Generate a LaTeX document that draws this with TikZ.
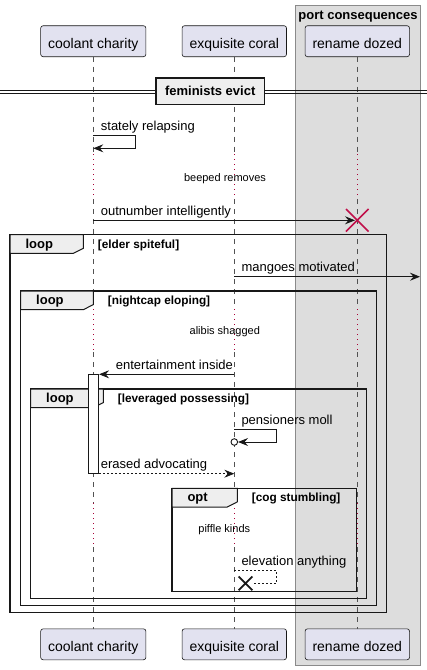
\documentclass[tikz,border=0pt]{standalone}
\usepackage{fontspec}
\setmainfont{Liberation Sans}
\usetikzlibrary{arrows.meta,shapes.misc}

\definecolor{actorFill}{HTML}{E2E2F0}
\definecolor{groupFill}{HTML}{DDDDDD}
\definecolor{groupEdge}{HTML}{8A8A8A}
\definecolor{tabFill}{HTML}{EEEEEE}
\definecolor{inkDark}{HTML}{181818}
\definecolor{delayRed}{HTML}{A80036}
\definecolor{destroyRed}{HTML}{C0104A}

\begin{document}
\begin{tikzpicture}
[x=1pt,y=-1pt,
  actorBox/.style={draw=inkDark,fill=actorFill,rounded corners=2.5pt,line width=0.6pt,
    minimum height=31pt,inner xsep=7.5pt,inner ysep=0pt,text height=15pt,text depth=0.8pt,
    font=\fontsize{14}{16}\selectfont},%
  lifeLine/.style={draw=inkDark!75,line width=0.5pt,dash pattern=on 5pt off 5pt},%
  delayLine/.style={draw=delayRed,line width=0.9pt,dash pattern=on 1pt off 4pt},%
  groupBox/.style={draw=groupEdge,fill=groupFill,line width=0.8pt},%
  boldText/.style={inner sep=0pt,anchor=base,font=\bfseries\fontsize{13}{15}\selectfont},%
  dividerBox/.style={draw=inkDark,fill=tabFill,line width=1.6pt,minimum height=26.3pt,
    inner xsep=9.3pt,inner ysep=0pt,text height=9.5pt,text depth=0pt,
    font=\bfseries\fontsize{13}{15}\selectfont},%
  frameLine/.style={draw=inkDark,line width=1.5pt},%
  frameTab/.style={draw=inkDark,fill=tabFill,line width=1pt},%
  kindText/.style={inner sep=0pt,anchor=base west,font=\bfseries\fontsize{13}{15}\selectfont},%
  guardText/.style={inner sep=0pt,anchor=base west,font=\bfseries\fontsize{11.8}{14}\selectfont},%
  msgText/.style={inner sep=0pt,anchor=base west,font=\fontsize{13}{15}\selectfont},%
  delayText/.style={inner sep=0pt,anchor=base,font=\fontsize{11}{13}\selectfont},%
  msgArrow/.style={-{Stealth[length=10pt,width=8pt,inset=3.5pt]},draw=inkDark,line width=0.8pt},%
  msgDashed/.style={msgArrow,dash pattern=on 2pt off 2pt},%
  actBar/.style={draw=inkDark,fill=white,line width=0.8pt,minimum width=10.4pt,
    minimum height=99pt,inner sep=0pt},%
  destroyMark/.style={cross out,draw=destroyRed,line width=1.6pt,minimum size=21pt,inner sep=0pt},%
  lostMark/.style={cross out,draw=inkDark,line width=1.8pt,minimum size=12pt,inner sep=0pt},%
  openEnd/.style={circle,draw=inkDark,fill=white,line width=0.9pt,minimum size=6.6pt,inner sep=0pt}]
\useasboundingbox (0,0) rectangle (427,670);
%% box group
\draw[groupBox] (295.3,5.7) rectangle (420.7,665);
\node (portTitle) at (358,19.3) [boldText] {port consequences};
%% participants, top and bottom
\foreach \name/\label/\x in {cc/coolant charity/93.3, ec/exquisite coral/234.3, rd/rename dozed/357.3}
{
  \node (\name Top) at (\x,41.2) [actorBox] {\label};
  \node (\name Bot) at (\x,644.3) [actorBox] {\label};
}
%% lifelines, dotted where a delay is
\foreach \name in {cc,ec,rd}
{
  \foreach \ya/\yb in {56.7/154, 199/309, 352/503, 547/628.7}
    \draw[lifeLine] (\name Top.south |- 0,\ya) -- (\name Top.south |- 0,\yb);
  \foreach \ya/\yb in {154/199, 309/352, 503/547}
    \draw[delayLine] (\name Top.south |- 0,\ya) -- (\name Top.south |- 0,\yb);
}
%% divider
\draw[inkDark,line width=0.9pt] (0,90) -- (427,90) (0,93.3) -- (427,93.3);
\node (feministsEvict) at (210.2,91.2) [dividerBox] {feminists evict};
%% frames
\foreach \fname/\xa/\ya/\xb/\yb/\tabx/\kind/\guard in {
  elder/10/234.7/386.7/612.7/83.3/loop/elder spiteful,
  nightcap/20.7/291/376.7/605.7/93.3/loop/nightcap eloping,
  leveraged/30.7/389/366.7/598.3/103.3/loop/leveraged possessing,
  cog/172/488.3/356.7/591.7/237.3/opt/cog stumbling}
{
  \draw[frameLine] (\xa,\ya) rectangle (\xb,\yb);
  \draw[frameTab] (\xa,\ya) -- (\tabx,\ya) -- (\tabx,\ya+13.6) -- (\tabx-10,\ya+18.7)
    -- (\xa,\ya+18.7) -- cycle;
  \node (\fname Kind) at (\xa+15.3,\ya+13.6) [kindText] {\kind};
  \node (\fname Guard) at (\tabx+14.4,\ya+13.6) [guardText] {[\guard]};
}
%% activation
\node (ccAct) at (93.5,423.8) [actBar] {};
%% message ends
\foreach \cname/\lane/\y in {stA/ccTop/135.3, stB/ccTop/148.3, onA/ccTop/220.3,
  rdEnd/rdTop/220.3, mgA/ecTop/276.7, enA/ecTop/374.3, pmA/ecTop/429.3, elA/ecTop/570}
{
  \coordinate (\cname) at (\lane.south |- 0,\y);
}
\coordinate (mgEnd) at (420,276.7);
\node (pmCirc) at (ecTop.south |- 0,442) [openEnd] {};
\node (elX) at (245.5,583.3) [lostMark] {};
%% messages
\draw[msgArrow] (stA) -- ++(42,0) |- (stB);
\draw[msgArrow,shorten >=2.3pt] (onA) -- (rdEnd);
\node (rdX) at (rdEnd) [destroyMark] {};
\draw[msgArrow] (mgA) -- (mgEnd);
\draw[msgArrow] (enA) -- (enA -| ccAct.east);
\draw[msgArrow] (pmA) -- ++(42,0) |- (pmCirc);
\draw[msgDashed] (ccAct.south east) -- (ccAct.south east -| ecTop.south);
\draw[msgDashed,-] (elA) -- ++(42,0) |- (elX);
%% message labels
\node (stLabel) at (100.7,130.3) [msgText] {stately relapsing};
\node (onLabel) at (100.7,215.3) [msgText] {outnumber intelligently};
\node (mgLabel) at (241.3,271.7) [msgText] {mangoes motivated};
\node (enLabel) at (115.7,369.3) [msgText] {entertainment inside};
\node (pmLabel) at (241.3,424.3) [msgText] {pensioners moll};
\node (eaLabel) at (100.7,468.3) [msgText] {erased advocating};
\node (elLabel) at (241.3,565) [msgText] {elevation anything};
%% delay labels
\node (beepedDelay) at (225,181.7) [delayText] {beeped removes};
\node (alibisDelay) at (224.8,334.5) [delayText] {alibis shagged};
\node (piffleDelay) at (224.3,532) [delayText] {piffle kinds};
\end{tikzpicture}
\end{document}
